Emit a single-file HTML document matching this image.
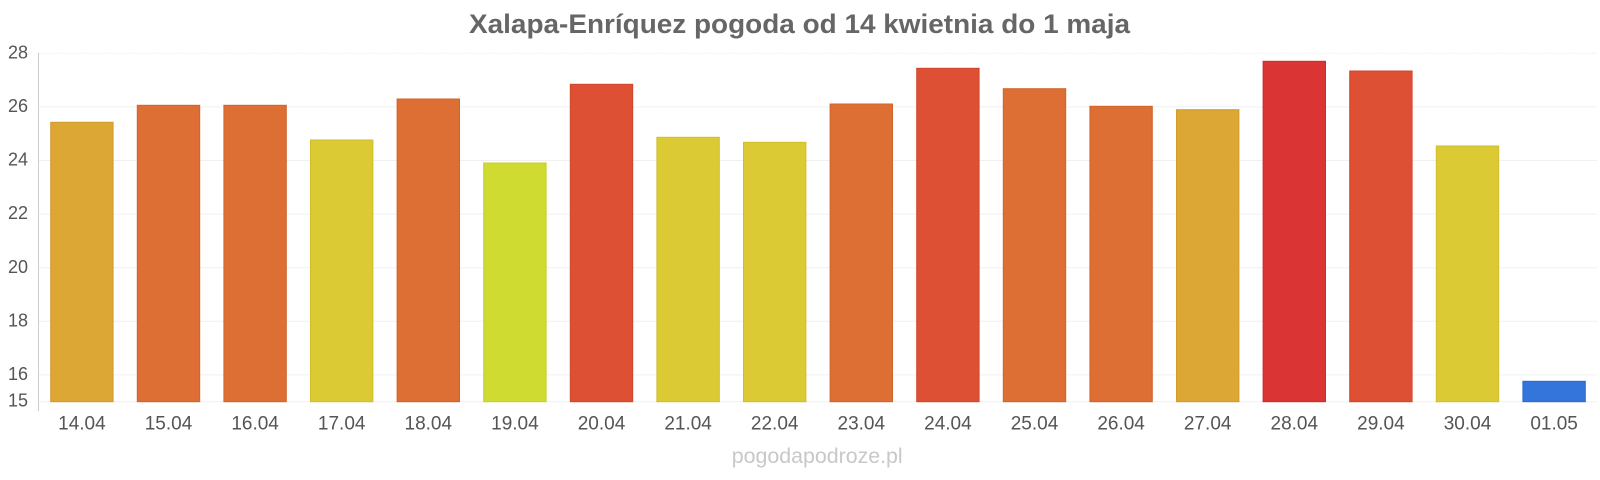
<!DOCTYPE html>
<html><head><meta charset="utf-8"><style>
html,body{margin:0;padding:0;background:#fff;}
svg{display:block;font-family:"Liberation Sans",Arial,sans-serif;}
</style></head><body>
<svg width="1600" height="480" viewBox="0 0 1600 480" xmlns="http://www.w3.org/2000/svg">
<text x="799.5" y="33" text-anchor="middle" font-size="27" font-weight="bold" fill="#666" textLength="661" lengthAdjust="spacingAndGlyphs">Xalapa-Enríquez pogoda od 14 kwietnia do 1 maja</text>
<g stroke="#f0f0f0" stroke-width="1">
<line x1="38" y1="53.3" x2="1597" y2="53.3" stroke-dasharray="2,1"/>
<line x1="38" y1="106.9" x2="1597" y2="106.9"/>
<line x1="38" y1="160.5" x2="1597" y2="160.5"/>
<line x1="38" y1="214.1" x2="1597" y2="214.1"/>
<line x1="38" y1="267.7" x2="1597" y2="267.7"/>
<line x1="38" y1="321.3" x2="1597" y2="321.3"/>
<line x1="38" y1="374.9" x2="1597" y2="374.9"/>
<line x1="38" y1="401.7" x2="1597" y2="401.7"/>
</g>
<line x1="38.5" y1="53" x2="38.5" y2="411" stroke="#ccc" stroke-width="1"/>
<g font-size="18" fill="#555" text-anchor="end">
<text x="28" y="58.5">28</text>
<text x="28" y="112">26</text>
<text x="28" y="165.5">24</text>
<text x="28" y="219">22</text>
<text x="28" y="273">20</text>
<text x="28" y="326.5">18</text>
<text x="28" y="380">16</text>
<text x="28" y="406.5">15</text>
</g>
<g stroke-width="1">
<rect x="50.7" y="122.3" width="62.4" height="279.4" fill="#dca734" stroke="#d09c2c"/>
<rect x="137.3" y="105.3" width="62.4" height="296.4" fill="#dd6f34" stroke="#d0642c"/>
<rect x="223.9" y="105.3" width="62.4" height="296.4" fill="#dd6f34" stroke="#d0642c"/>
<rect x="310.5" y="140" width="62.4" height="261.7" fill="#dbca33" stroke="#cfbd2b"/>
<rect x="397.1" y="99" width="62.4" height="302.7" fill="#dd6f34" stroke="#d0642c"/>
<rect x="483.7" y="163" width="62.4" height="238.7" fill="#cfdb30" stroke="#c3cf28"/>
<rect x="570.3" y="84.3" width="62.4" height="317.4" fill="#dd5034" stroke="#d0462c"/>
<rect x="656.9" y="137.3" width="62.4" height="264.4" fill="#dbca33" stroke="#cfbd2b"/>
<rect x="743.5" y="142.3" width="62.4" height="259.4" fill="#dbca33" stroke="#cfbd2b"/>
<rect x="830.1" y="104" width="62.4" height="297.7" fill="#dd6f34" stroke="#d0642c"/>
<rect x="916.7" y="68.3" width="62.4" height="333.4" fill="#dd5034" stroke="#d0462c"/>
<rect x="1003.3" y="88.7" width="62.4" height="313" fill="#dd6f34" stroke="#d0642c"/>
<rect x="1089.9" y="106.3" width="62.4" height="295.4" fill="#dd6f34" stroke="#d0642c"/>
<rect x="1176.5" y="109.7" width="62.4" height="292" fill="#dca734" stroke="#d09c2c"/>
<rect x="1263.1" y="61.3" width="62.4" height="340.4" fill="#da3434" stroke="#cd2c2c"/>
<rect x="1349.7" y="71" width="62.4" height="330.7" fill="#dd5034" stroke="#d0462c"/>
<rect x="1436.3" y="146" width="62.4" height="255.7" fill="#dbca33" stroke="#cfbd2b"/>
<rect x="1522.9" y="381.3" width="62.4" height="20.4" fill="#3375db" stroke="#2b6ace"/>
</g>
<g font-size="19" fill="#555" text-anchor="middle">
<text x="81.9" y="429.3">14.04</text>
<text x="168.5" y="429.3">15.04</text>
<text x="255.1" y="429.3">16.04</text>
<text x="341.7" y="429.3">17.04</text>
<text x="428.3" y="429.3">18.04</text>
<text x="514.9" y="429.3">19.04</text>
<text x="601.5" y="429.3">20.04</text>
<text x="688.1" y="429.3">21.04</text>
<text x="774.7" y="429.3">22.04</text>
<text x="861.3" y="429.3">23.04</text>
<text x="947.9" y="429.3">24.04</text>
<text x="1034.5" y="429.3">25.04</text>
<text x="1121.1" y="429.3">26.04</text>
<text x="1207.7" y="429.3">27.04</text>
<text x="1294.3" y="429.3">28.04</text>
<text x="1380.9" y="429.3">29.04</text>
<text x="1467.5" y="429.3">30.04</text>
<text x="1554.1" y="429.3">01.05</text>
</g>
<text x="817.2" y="463" text-anchor="middle" font-size="21.4" fill="#c8c8c8" textLength="171" lengthAdjust="spacingAndGlyphs">pogodapodroze.pl</text>
</svg>
</body></html>
